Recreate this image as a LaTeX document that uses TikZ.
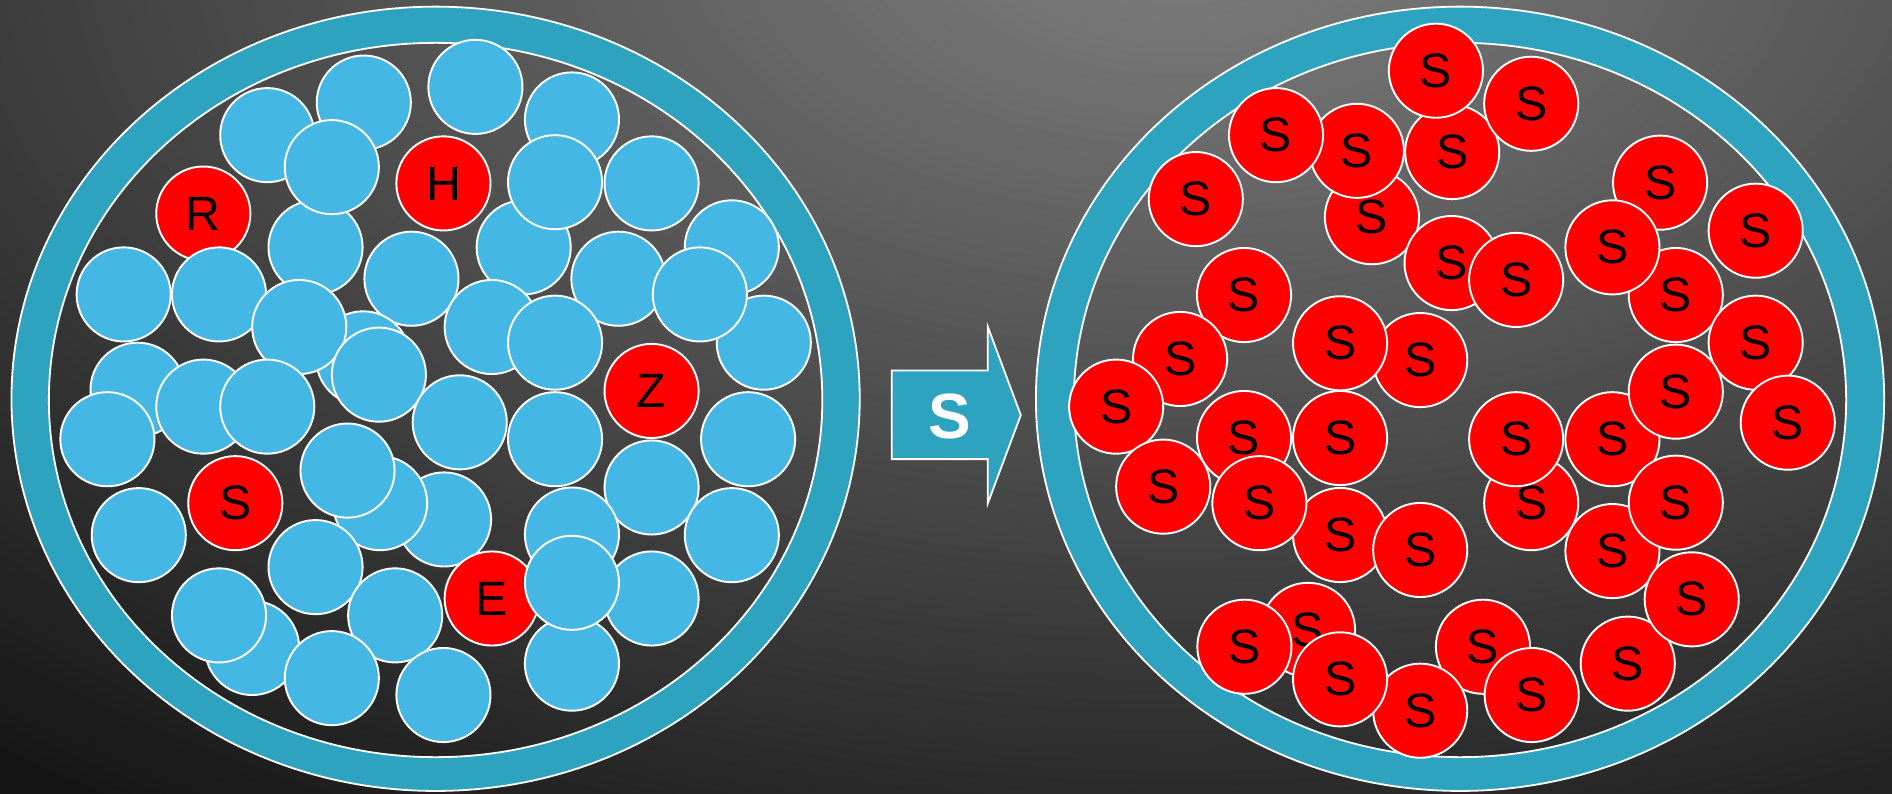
\documentclass[tikz,border=0pt]{standalone}
\usepackage{fontspec}
\newfontfamily\lblfont{Liberation Sans}
\definecolor{ringteal}{RGB}{46,163,191}
\definecolor{cblue}{RGB}{69,183,229}
\definecolor{cred}{RGB}{255,0,0}
\definecolor{bginner}{RGB}{128,128,128}
\definecolor{bgouter}{RGB}{18,18,18}
\tikzset{
  ball/.style={circle, minimum size=78pt, inner sep=0pt, draw=white, line width=1.6pt,
    font=\lblfont\fontsize{40}{40}\selectfont, text=black},
  bb/.style={ball, fill=cblue},
  rb/.style={ball, fill=cred},
  ringfill/.style={fill=ringteal, even odd rule},
  ringline/.style={draw=white, line width=1.5pt},
  arrowbody/.style={fill=ringteal, draw=white, line width=1.5pt, line join=miter},
}
\begin{document}
\begin{tikzpicture}[x=1pt,y=-1pt]
\useasboundingbox (0,0) rectangle (1568,658);
% background
\fill[bgouter] (0,0) rectangle (1568,658);
\begin{scope}
\clip (0,0) rectangle (1568,658);
\shade[inner color=bginner, outer color=bgouter] (980,-60) ellipse [x radius=1600, y radius=920];
\end{scope}
% left ring
\path[ringfill] (361,330.5) ellipse [x radius=351.5, y radius=325] (361,331.5) ellipse [x radius=320.5, y radius=296];
\draw[ringline] (361,330.5) ellipse [x radius=351.5, y radius=325];
\draw[ringline] (361,331.5) ellipse [x radius=320.5, y radius=296];
% right ring
\path[ringfill] (1210,330.5) ellipse [x radius=351.5, y radius=325] (1210,331.5) ellipse [x radius=320, y radius=296];
\draw[ringline] (1210,330.5) ellipse [x radius=351.5, y radius=325];
\draw[ringline] (1210,331.5) ellipse [x radius=320, y radius=296];
% left circles
\node[bb] (L1) at (221.5,112) {};
\node[bb] (L2) at (301.5,85) {};
\node[bb] (L3) at (394,72) {};
\node[bb] (L4) at (474,99) {};
\node[rb] (L9) at (168.5,177) {R};
\node[bb] (L10) at (261.5,205) {};
\node[bb] (L11) at (434,205) {};
\node[bb] (L12) at (606.5,205) {};
\node[bb] (L5) at (275,138.5) {};
\node[rb] (L6) at (367.5,152) {H};
\node[bb] (L7) at (460,151) {};
\node[bb] (L8) at (540,152) {};
\node[bb] (L13) at (102.5,244) {};
\node[bb] (L14) at (181.5,244) {};
\node[bb] (L15) at (341,231) {};
\node[bb] (L16) at (512.5,231) {};
\node[bb] (L19) at (301,297) {};
\node[bb] (L20) at (407.5,271) {};
\node[bb] (L22) at (633,284) {};
\node[bb] (L17) at (580,244) {};
\node[bb] (L18) at (248,271) {};
\node[bb] (L26) at (314,310.5) {};
\node[bb] (L21) at (460,284) {};
\node[bb] (L23) at (114,323) {};
\node[bb] (L24) at (168.5,337) {};
\node[bb] (L25) at (221.5,337) {};
\node[bb] (L27) at (89,364) {};
\node[bb] (L28) at (381,350) {};
\node[bb] (L29) at (460,364) {};
\node[rb] (L30) at (540,324) {Z};
\node[bb] (L31) at (620,364) {};
\node[bb] (L35) at (368,430.5) {};
\node[bb] (L34) at (315,417) {};
\node[bb] (L33) at (288,390) {};
\node[rb] (L32) at (195,417) {S};
\node[bb] (L36) at (540,404) {};
\node[bb] (L37) at (115,443.5) {};
\node[bb] (L38) at (474,443) {};
\node[bb] (L39) at (606.5,443.5) {};
\node[bb] (L40) at (261.5,470) {};
\node[rb] (L41) at (407.5,496) {E};
\node[bb] (L43) at (540,496) {};
\node[bb] (L49) at (474,550) {};
\node[bb] (L42) at (474,483) {};
\node[bb] (L44) at (209,537) {};
\node[bb] (L45) at (181.5,510) {};
\node[bb] (L46) at (327.5,510) {};
\node[bb] (L47) at (275,562) {};
\node[bb] (L48) at (367.5,576) {};
% arrow
\path[arrowbody] (739,307) -- (818.6,307) -- (818.6,270.7) -- (846,344) -- (818.6,417.3) -- (818.6,380.5) -- (739,380.5) -- cycle;
\node[font=\lblfont\bfseries\fontsize{53}{53}\selectfont, text=white, inner sep=0pt] (arrowlabel) at (787,345) {S};
% right circles
\node[rb] (Rg) at (1137,180) {S};
\node[rb] (Re) at (1203.5,126) {S};
\node[rb] (Rd) at (1124.5,125) {S};
\node[rb] (Rc) at (1057.5,112) {S};
\node[rb] (Ra) at (1190,58.6) {S};
\node[rb] (Rb) at (1269,86) {S};
\node[rb] (Rf) at (991,165) {S};
\node[rb] (Rj) at (1203,218) {S};
\node[rb] (Rk) at (1256.5,232) {S};
\node[rb] (Rh) at (1375.8,151.4) {S};
\node[rb] (Rm) at (1388.8,244.5) {S};
\node[rb] (Rl) at (1336.3,205) {S};
\node[rb] (Ri) at (1455,191.2) {S};
\node[rb] (Ro) at (1455,284) {S};
\node[rb] (Ry) at (1336.3,364) {S};
\node[rb] (Rt) at (1388.8,324.6) {S};
\node[rb] (Ru) at (1481.6,350.3) {S};
\node[rb] (Rn) at (1031,244.5) {S};
\node[rb] (Rp) at (978,297.5) {S};
\node[rb] (Rs) at (925,337) {S};
\node[rb] (Rz) at (964,403.3) {S};
\node[rb] (Rr) at (1177,298.4) {S};
\node[rb] (Rq) at (1110.6,284.5) {S};
\node[rb] (Rv) at (1031,363) {S};
\node[rb] (Rdd) at (1110.6,443.4) {S};
\node[rb] (Raa) at (1043.7,417) {S};
\node[rb] (Rw) at (1110.6,363) {S};
\node[rb] (Rbb) at (1269,417) {S};
\node[rb] (Rx) at (1256.5,364) {S};
\node[rb] (Ree) at (1177,455.8) {S};
\node[rb] (Rff) at (1336.3,456.7) {S};
\node[rb] (Rcc) at (1388.8,416.6) {S};
\node[rb] (Rnn) at (1349,550) {S};
\node[rb] (Rgg) at (1402,496.7) {S};
\node[rb] (Rhh) at (1084,522) {S};
\node[rb] (Rll) at (1229,536) {S};
\node[rb] (Rkk) at (1177,589) {S};
\node[rb] (Rii) at (1031.3,536) {S};
\node[rb] (Rjj) at (1110.6,563) {S};
\node[rb] (Rmm) at (1269.4,576) {S};
\end{tikzpicture}
\end{document}
